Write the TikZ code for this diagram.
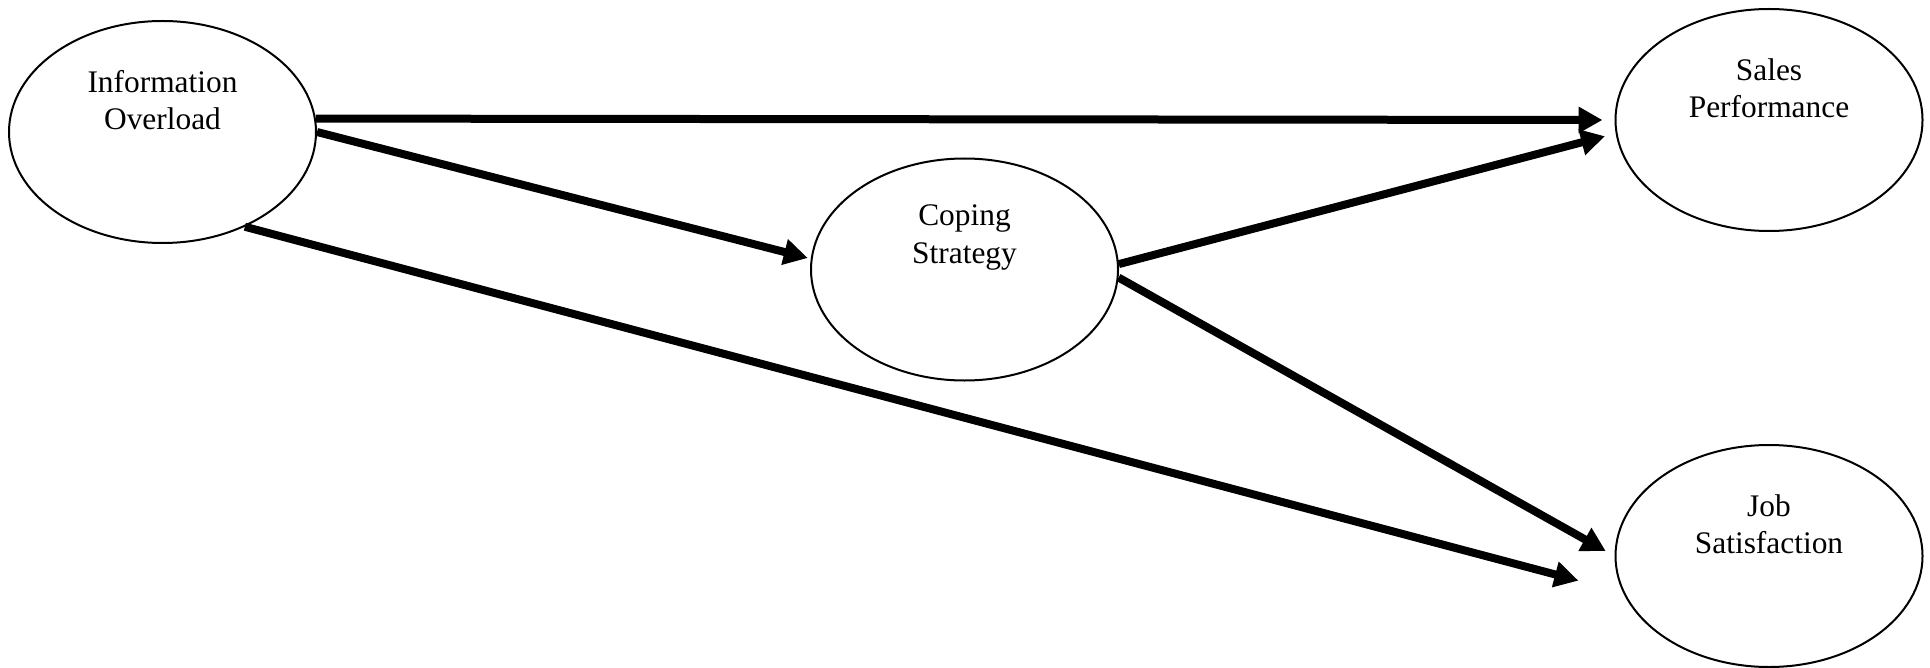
\documentclass[tikz,border=0pt]{standalone}
\usepackage{fontspec}
\setmainfont{Liberation Serif}
\usetikzlibrary{shapes.geometric,arrows.meta}

\tikzset{
  construct/.style={ellipse,draw,line width=1pt,minimum width=153.5pt,
    minimum height=111pt,inner sep=0pt},
  construct label/.style={align=center,inner sep=0pt,
    font=\fontsize{15.7}{18.6}\selectfont,yshift=16pt},
  path arrow/.style={line width=4pt,-{Triangle[length=12pt,width=12.5pt]}}
}

\begin{document}
\begin{tikzpicture}[x=0.5pt,y=-0.5pt]
    \useasboundingbox (0,0) rectangle (1930,668);
    % constructs
    \node[construct,label={[construct label]center:Information\\Overload}]
        (io) at (162.5,132) {};
    \node[construct,label={[construct label]center:Coping\\Strategy}]
        (cs) at (964.5,269.5) {};
    \node[construct,label={[construct label]center:Sales\\Performance}]
        (sp) at (1769,120) {};
    \node[construct,label={[construct label]center:Job\\Satisfaction}]
        (js) at (1769,556) {};
    % paths
    \draw[path arrow,shorten >=6pt]
        (io.5) -- (sp.west);
    \draw[path arrow,shorten >=1.5pt]
        (io.east) -- (cs.176);
    \draw[path arrow,shorten >=23pt]
        (io.-49) -- (js.194);
    \draw[path arrow,shorten >=5.5pt]
        (cs.2) -- (sp.185);
    \draw[path arrow,shorten >=5pt]
        (cs.-3) -- (js.west);
\end{tikzpicture}
\end{document}
